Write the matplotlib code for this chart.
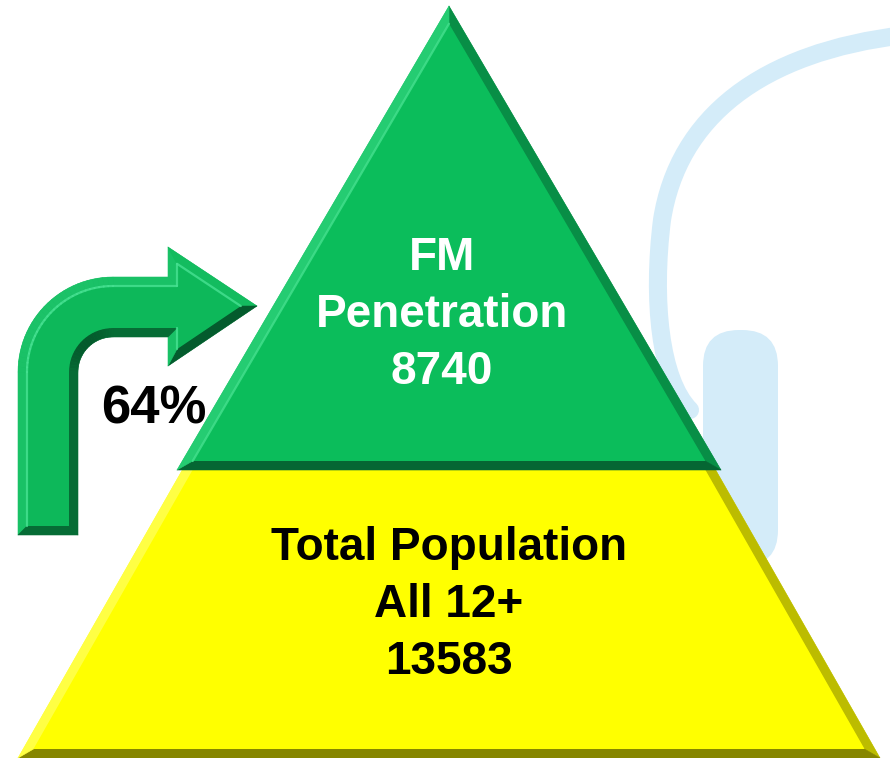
import numpy as np
import matplotlib
matplotlib.use("Agg")
import matplotlib.pyplot as plt
from matplotlib.collections import PolyCollection, LineCollection
from matplotlib.patches import Polygon, FancyBboxPatch, PathPatch
from matplotlib.path import Path
from matplotlib.colors import to_rgb

# ---------------- data ----------------
level_labels = ["Total Population\nAll 12+", "FM\nPenetration"]
level_values = [13583, 8740]
level_colors = ["#ffff00", "#0bbd5b"]
text_colors = ["black", "white"]
share_pct = round(100 * level_values[1] / level_values[0])

# ---------------- figure ----------------
fig = plt.figure(figsize=(8.9, 7.58), dpi=100)
ax = fig.add_axes([0, 0, 1, 1])
ax.set_xlim(0, 890)
ax.set_ylim(758, 0)
ax.axis("off")

FONT = ["Liberation Sans", "DejaVu Sans"]


def mix(c1, c2, t):
    a = np.array(to_rgb(c1)); b = np.array(to_rgb(c2))
    return tuple(a + (b - a) * t)


def inset(P, b):
    P = np.asarray(P, float)
    n = len(P)
    area = 0.5 * np.sum(P[:, 0] * np.roll(P[:, 1], -1) - np.roll(P[:, 0], -1) * P[:, 1])
    E = np.roll(P, -1, axis=0) - P
    L = np.hypot(E[:, 0], E[:, 1])[:, None]
    if area > 0:
        N = np.column_stack([-E[:, 1], E[:, 0]]) / L
    else:
        N = np.column_stack([E[:, 1], -E[:, 0]]) / L
    Q = np.zeros_like(P)
    for i in range(n):
        n1 = N[i - 1]; n2 = N[i]
        Q[i] = P[i] + b * (n1 + n2) / (1 + np.dot(n1, n2))
    return Q, -N  # inset polygon, outward normals


def bevel_shape(P, b, main, light, dark, z, lit_scale=0.7, ridge=True):
    P = np.asarray(P, float)
    Q, Nout = inset(P, b)
    Ldir = np.array([-1.0, -1.0]) / np.sqrt(2)
    polys, cols, ridges = [], [], []
    n = len(P)
    for i in range(n):
        j = (i + 1) % n
        s = float(np.dot(Nout[i], Ldir))
        s = np.sign(s) * abs(s) ** 0.6
        c = mix(main, light, s * lit_scale) if s > 0 else mix(main, dark, -s)
        polys.append([P[i], P[j], Q[j], Q[i]])
        cols.append(c)
        if s > 0.3:
            ridges.append([Q[i], Q[j]])
    ax.add_patch(Polygon(P, closed=True, facecolor=main, edgecolor="none", zorder=z))
    ax.add_collection(PolyCollection(polys, facecolors=cols, edgecolors=cols,
                                     linewidths=0.4, zorder=z + 0.1))
    ax.add_patch(Polygon(Q, closed=True, facecolor=main, edgecolor="none", zorder=z + 0.2))
    if ridge and ridges:
        ax.add_collection(LineCollection(ridges, colors=[light], linewidths=1.6,
                                         alpha=0.8, capstyle="round", zorder=z + 0.3))


# ---------------- background headphone decoration ----------------
bg = "#d4ecf9"
verts = [(905, 35), (760, 52), (678, 118), (662, 220),
         (652, 300), (660, 380), (690, 410)]
codes = [Path.MOVETO, Path.CURVE4, Path.CURVE4, Path.CURVE4,
         Path.CURVE4, Path.CURVE4, Path.CURVE4]
ax.add_patch(PathPatch(Path(verts, codes), facecolor="none", edgecolor=bg,
                       lw=13, capstyle="round", zorder=1))
ax.add_patch(FancyBboxPatch((703, 330), 75, 236,
                            boxstyle="round,pad=0,rounding_size=36",
                            facecolor=bg, edgecolor="none", zorder=1))

# ---------------- pyramid ----------------
yellow_poly = [(188, 460), (710, 460), (880, 758), (18, 758)]
green_poly = [(449, 6), (721, 470), (177, 470)]
bevel_shape(yellow_poly, 9, level_colors[0], "#ffff8a", "#6a6a00", 2,
            lit_scale=0.5, ridge=False)
bevel_shape(green_poly, 9, level_colors[1], "#45e08e", "#04522a", 3,
            lit_scale=0.45)

# ---------------- arrow ----------------
c = np.array([113.0, 372.0]); R, r = 95.0, 35.0
th_out = np.radians(np.linspace(180, 270, 30))
th_in = np.radians(np.linspace(270, 180, 20))
arrow = [(18, 535)]
arrow += [tuple(c + R * np.array([np.cos(t), np.sin(t)])) for t in th_out]
arrow += [(168, 277), (168, 247), (257, 306), (168, 366), (168, 337)]
arrow += [tuple(c + r * np.array([np.cos(t), np.sin(t)])) for t in th_in]
arrow += [(78, 535)]
bevel_shape(arrow, 9, "#0db85a", "#48e293", "#045a2c", 4, lit_scale=0.25)

# ---------------- texts ----------------
line_gap = 57
blocks = [(449, 560), (442, 270)]
for k in range(2):
    lines = level_labels[k].split("\n") + [f"{level_values[k]}"]
    x0, y0 = blocks[k]
    for i, ln in enumerate(lines):
        ax.text(x0, y0 + i * line_gap, ln, ha="center", va="baseline",
                fontsize=33, fontweight="bold", color=text_colors[k],
                family=FONT, zorder=6)

ax.text(101, 423, f"{share_pct}%", ha="left", va="baseline", fontsize=38,
        fontweight="bold", color="black", family=FONT, zorder=6)

fig.savefig("out.png", dpi=100)
